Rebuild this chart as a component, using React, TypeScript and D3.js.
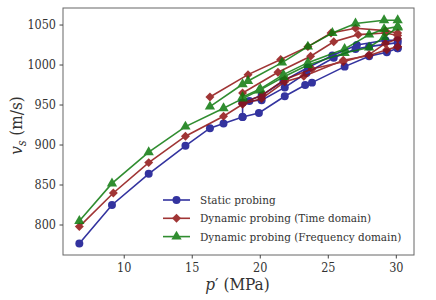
import React, { useRef, useEffect } from "react";
import * as d3 from "d3";

/* ---- data: each series is a loading path plus unload / reload branches ---- */
const staticLoadP = [6.7, 9.1, 11.8, 14.5, 16.3, 17.3, 18.7, 19.9, 21.8, 23.3, 23.8, 26.2, 28.0, 29.3, 30.1];
const staticLoadV = [777, 825, 864, 899, 921, 927, 935, 940, 961, 975, 978, 998, 1011, 1016, 1021];
const staticUnloadP = [30.1, 30.1, 29.2, 27.1, 25.3, 23.5, 21.7, 20.1, 18.7, 18.7];
const staticUnloadV = [1021, 1031, 1031, 1025, 1012, 997, 980, 962, 953, 935];
const staticReloadP = [18.7, 19.2, 20.1, 21.8, 23.4, 25.4, 27.0, 28.0, 30.1];
const staticReloadV = [953, 955, 956, 972, 990, 1009, 1020, 1023, 1028];

const timeLoadP = [6.7, 9.2, 11.8, 14.5, 17.3, 18.7, 20.1, 21.8, 23.2, 26.1, 28.0, 29.3, 30.1];
const timeLoadV = [798, 840, 878, 911, 936, 951, 958, 979, 986, 1006, 1012, 1019, 1023];
const timeUnloadP = [30.1, 30.1, 29.2, 28.0, 26.1, 23.8, 21.8, 20.2, 18.7];
const timeUnloadV = [1023, 1033, 1027, 1013, 1004, 995, 982, 963, 952];
const timeReloadP = [18.7, 18.7, 21.3, 23.7, 25.4, 27.2, 29.2, 30.1];
const timeReloadV = [952, 965, 991, 1011, 1029, 1038, 1040, 1037];
const timeTopP = [30.1, 29.2, 27.0, 25.2, 23.5, 21.5, 19.1, 16.3];
const timeTopV = [1040, 1043, 1046, 1040, 1023, 1007, 988, 960];

const freqLoadP = [6.7, 9.1, 11.8, 14.5, 17.3, 18.7, 19.9, 21.7, 23.5, 26.2, 28.0, 29.1, 30.1];
const freqLoadV = [805, 852, 891, 923, 946, 958, 968, 985, 1000, 1015, 1022, 1035, 1047];
const freqUnloadP = [30.1, 29.1, 28.0, 26.2, 23.5, 21.7, 20.0, 18.7];
const freqUnloadV = [1048, 1045, 1038, 1020, 1003, 988, 970, 960];
const freqTopP = [16.3, 18.7, 19.1, 21.6, 23.5, 25.3, 27.0, 29.1, 30.1, 30.1];
const freqTopV = [948, 976, 980, 1003, 1023, 1040, 1052, 1056, 1056, 1048];

const xTicks = [10, 15, 20, 25, 30];
const yTicks = [800, 850, 900, 950, 1000, 1050];

const seriesNames = [
  "Static probing",
  "Dynamic probing (Time domain)",
  "Dynamic probing (Frequency domain)",
];

const FONT = "'DejaVu Serif Condensed', 'DejaVu Serif', serif";

const zip = (p: number[], v: number[]) => p.map((x, i) => ({ p: x, v: v[i] }));

export default function App() {
  const svgRef = useRef<SVGSVGElement>(null);

  useEffect(() => {
    /* ---- layout ---- */
    const W = 436;
    const H = 300;
    const M = { top: 8, right: 22, bottom: 45, left: 63 };
    const iw = W - M.left - M.right;
    const ih = H - M.top - M.bottom;

    const x = d3.scaleLinear().domain([5.5, 31.3]).range([0, iw]);
    const y = d3.scaleLinear().domain([762.5, 1071.3]).range([ih, 0]);

    const series = [
      {
        color: "#10108f",
        symbol: d3.symbolCircle,
        size: 50,
        rot: 0,
        branches: [
          zip(staticLoadP, staticLoadV),
          zip(staticUnloadP, staticUnloadV),
          zip(staticReloadP, staticReloadV),
        ],
      },
      {
        color: "#901212",
        symbol: d3.symbolSquare,
        size: 40,
        rot: 45,
        branches: [
          zip(timeLoadP, timeLoadV),
          zip(timeUnloadP, timeUnloadV),
          zip(timeReloadP, timeReloadV),
          zip(timeTopP, timeTopV),
        ],
      },
      {
        color: "#0d7a0d",
        symbol: d3.symbolTriangle,
        size: 46,
        rot: 0,
        branches: [
          zip(freqLoadP, freqLoadV),
          zip(freqUnloadP, freqUnloadV),
          zip(freqTopP, freqTopV),
        ],
      },
    ];

    const svg = d3.select(svgRef.current);
    svg.selectAll("*").remove();
    svg.attr("viewBox", `0 0 ${W} ${H}`);

    svg.append("rect").attr("width", W).attr("height", H).attr("fill", "#fff");

    const g = svg.append("g").attr("transform", `translate(${M.left},${M.top})`);

    /* ---- lines + markers ---- */
    const line = d3
      .line<{ p: number; v: number }>()
      .x((d) => x(d.p))
      .y((d) => y(d.v));

    series.forEach((s) => {
      const sg = g.append("g").attr("opacity", 0.85);
      s.branches.forEach((b) => {
        sg.append("path")
          .datum(b)
          .attr("d", line)
          .attr("fill", "none")
          .attr("stroke", s.color)
          .attr("stroke-width", 1.6);
      });
      const pts = s.branches.flat();
      sg.selectAll("path.mk")
        .data(pts)
        .enter()
        .append("path")
        .attr("class", "mk")
        .attr("d", d3.symbol().type(s.symbol).size(s.size)())
        .attr(
          "transform",
          (d) => `translate(${x(d.p)},${y(d.v)}) rotate(${s.rot})`
        )
        .attr("fill", s.color);
    });

    /* ---- frame ---- */
    g.append("rect")
      .attr("width", iw)
      .attr("height", ih)
      .attr("fill", "none")
      .attr("stroke", "#666")
      .attr("stroke-width", 1);

    /* ---- x axis ---- */
    const xa = g.append("g").attr("transform", `translate(0,${ih})`);
    xTicks.forEach((t) => {
      xa.append("line")
        .attr("x1", x(t))
        .attr("x2", x(t))
        .attr("y1", 0)
        .attr("y2", 3.5)
        .attr("stroke", "#444");
      xa.append("text")
        .attr("x", x(t))
        .attr("y", 17)
        .attr("text-anchor", "middle")
        .attr("fill", "#333")
        .style("font-family", FONT)
        .style("font-size", "12.5px")
        .text(t);
    });

    /* ---- y axis ---- */
    const ya = g.append("g");
    yTicks.forEach((t) => {
      ya.append("line")
        .attr("x1", -3.5)
        .attr("x2", 0)
        .attr("y1", y(t))
        .attr("y2", y(t))
        .attr("stroke", "#444");
      ya.append("text")
        .attr("x", -7)
        .attr("y", y(t))
        .attr("dy", "0.35em")
        .attr("text-anchor", "end")
        .attr("fill", "#333")
        .style("font-family", FONT)
        .style("font-size", "12.5px")
        .text(t);
    });

    /* ---- axis labels ---- */
    const xl = svg
      .append("text")
      .attr("x", M.left + iw / 2 - 1)
      .attr("y", 290)
      .attr("text-anchor", "middle")
      .attr("fill", "#333")
      .style("font-family", FONT)
      .style("font-size", "17px");
    xl.append("tspan").style("font-style", "italic").text("p");
    xl.append("tspan").text("′ (MPa)");

    const yl = svg
      .append("text")
      .attr("transform", `translate(22,${M.top + ih / 2 - 6}) rotate(-90)`)
      .attr("text-anchor", "middle")
      .attr("fill", "#333")
      .style("font-family", FONT)
      .style("font-size", "17px");
    yl.append("tspan").style("font-style", "italic").text("v");
    yl.append("tspan")
      .style("font-style", "italic")
      .style("font-size", "12px")
      .attr("dy", 4)
      .text("s");
    yl.append("tspan").attr("dy", -4).text(" (m/s)");

    /* ---- legend ---- */
    const lg = svg.append("g").attr("transform", "translate(163,200)");
    series.forEach((s, i) => {
      const row = lg
        .append("g")
        .attr("transform", `translate(0,${i * 18.3})`)
        .attr("opacity", 0.85);
      row.append("line")
        .attr("x1", 0)
        .attr("x2", 27)
        .attr("stroke", s.color)
        .attr("stroke-width", 1.6);
      row.append("path")
        .attr("d", d3.symbol().type(s.symbol).size(s.size)())
        .attr("transform", `translate(13.5,0) rotate(${s.rot})`)
        .attr("fill", s.color);
      lg.append("text")
        .attr("x", 37)
        .attr("y", i * 18.3)
        .attr("dy", "0.35em")
        .attr("fill", "#333")
        .style("font-family", FONT)
        .style("font-size", "11.6px")
        .text(seriesNames[i]);
    });
  }, []);

  return (
    <svg
      ref={svgRef}
      width={436}
      height={300}
      style={{ position: "absolute", left: 0, top: 0, display: "block" }}
    />
  );
}
